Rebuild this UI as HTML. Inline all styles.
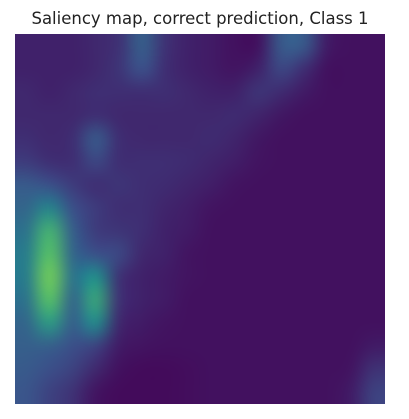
<!DOCTYPE html>
<html><head><meta charset="utf-8">
<style>
html,body{margin:0;padding:0;background:#fff;width:409px;height:419px;overflow:hidden}
#title{position:absolute;left:0;width:400px;top:9px;text-align:center;font-family:"DejaVu Sans","Liberation Sans",sans-serif;font-size:16.5px;color:#222;white-space:nowrap}
#hm{position:absolute;left:15px;top:34px;width:370px;height:370px}
</style></head>
<body>
<div id="title">Saliency map, correct prediction, Class 1</div>
<canvas id="hm" width="370" height="370"></canvas>
<script>
const row0=[0.1,0.1,0.1,0.12,0.15,0.3,0.15,0.1,0.08,0.05,0.05,0.28,0.28,0.08,0.05,0.05];
const row1=[0.1,0.1,0.1,0.12,0.16,0.25,0.14,0.1,0.08,0.06,0.1,0.22,0.14,0.05,0.05,0.05];
const row2=[0.12,0.1,0.12,0.14,0.14,0.14,0.14,0.12,0.1,0.1,0.16,0.13,0.08,0.05,0.05,0.05];
const row3=[0.12,0.12,0.12,0.14,0.12,0.12,0.12,0.12,0.12,0.13,0.11,0.07,0.05,0.05,0.05,0.05];
const row4=[0.14,0.12,0.14,0.28,0.14,0.12,0.12,0.12,0.13,0.11,0.07,0.05,0.05,0.05,0.05,0.05];
const row5=[0.18,0.14,0.14,0.22,0.14,0.14,0.14,0.13,0.11,0.09,0.06,0.05,0.05,0.05,0.05,0.05];
const row6=[0.28,0.24,0.18,0.14,0.16,0.14,0.13,0.11,0.09,0.06,0.05,0.05,0.05,0.05,0.05,0.05];
const row7=[0.33,0.45,0.24,0.18,0.14,0.14,0.11,0.09,0.06,0.05,0.05,0.05,0.05,0.05,0.05,0.05];
const row8=[0.38,0.65,0.3,0.18,0.16,0.14,0.1,0.08,0.05,0.05,0.05,0.05,0.05,0.05,0.05,0.05];
const row9=[0.42,0.72,0.33,0.24,0.22,0.12,0.1,0.06,0.05,0.05,0.05,0.05,0.05,0.05,0.05,0.05];
const row10=[0.42,0.78,0.38,0.5,0.15,0.1,0.08,0.06,0.05,0.05,0.05,0.05,0.05,0.05,0.05,0.05];
const row11=[0.38,0.72,0.33,0.6,0.15,0.1,0.08,0.05,0.05,0.05,0.05,0.05,0.05,0.05,0.05,0.05];
const row12=[0.33,0.55,0.3,0.48,0.12,0.08,0.06,0.05,0.05,0.05,0.05,0.05,0.05,0.05,0.05,0.05];
const row13=[0.3,0.3,0.24,0.2,0.08,0.06,0.05,0.05,0.05,0.05,0.05,0.05,0.05,0.05,0.05,0.08];
const row14=[0.28,0.24,0.2,0.12,0.05,0.03,0.03,0.04,0.05,0.05,0.05,0.05,0.05,0.05,0.06,0.15];
const row15=[0.26,0.2,0.15,0.06,0.03,0.03,0.03,0.04,0.05,0.05,0.05,0.05,0.05,0.05,0.08,0.2];
const rows=[row0,row1,row2,row3,row4,row5,row6,row7,row8,row9,row10,row11,row12,row13,row14,row15];
const stops=[[0,[68,1,84]],[0.25,[59,82,139]],[0.5,[33,145,140]],[0.75,[94,201,98]],[1,[253,231,37]]];
function viridis(v){v=Math.max(0,Math.min(1,v));for(let i=1;i<stops.length;i++){if(v<=stops[i][0]){const a=stops[i-1],b=stops[i];const t=(v-a[0])/(b[0]-a[0]);return a[1].map((c,k)=>Math.round(c+(b[1][k]-c)*t));}}return stops[4][1];}
const n=rows.length,m=rows[0].length;
const small=document.createElement('canvas');small.width=m;small.height=n;
const sc=small.getContext('2d');const img=sc.createImageData(m,n);
rows.forEach((r,y)=>r.forEach((v,x)=>{const c=viridis(v);const i=(y*m+x)*4;img.data[i]=c[0];img.data[i+1]=c[1];img.data[i+2]=c[2];img.data[i+3]=255;}));
sc.putImageData(img,0,0);
const cv=document.getElementById('hm');const ctx=cv.getContext('2d');
ctx.imageSmoothingEnabled=true;ctx.imageSmoothingQuality='high';
ctx.drawImage(small,0,0,m,n,0,0,cv.width,cv.height);
</script>
</body></html>
